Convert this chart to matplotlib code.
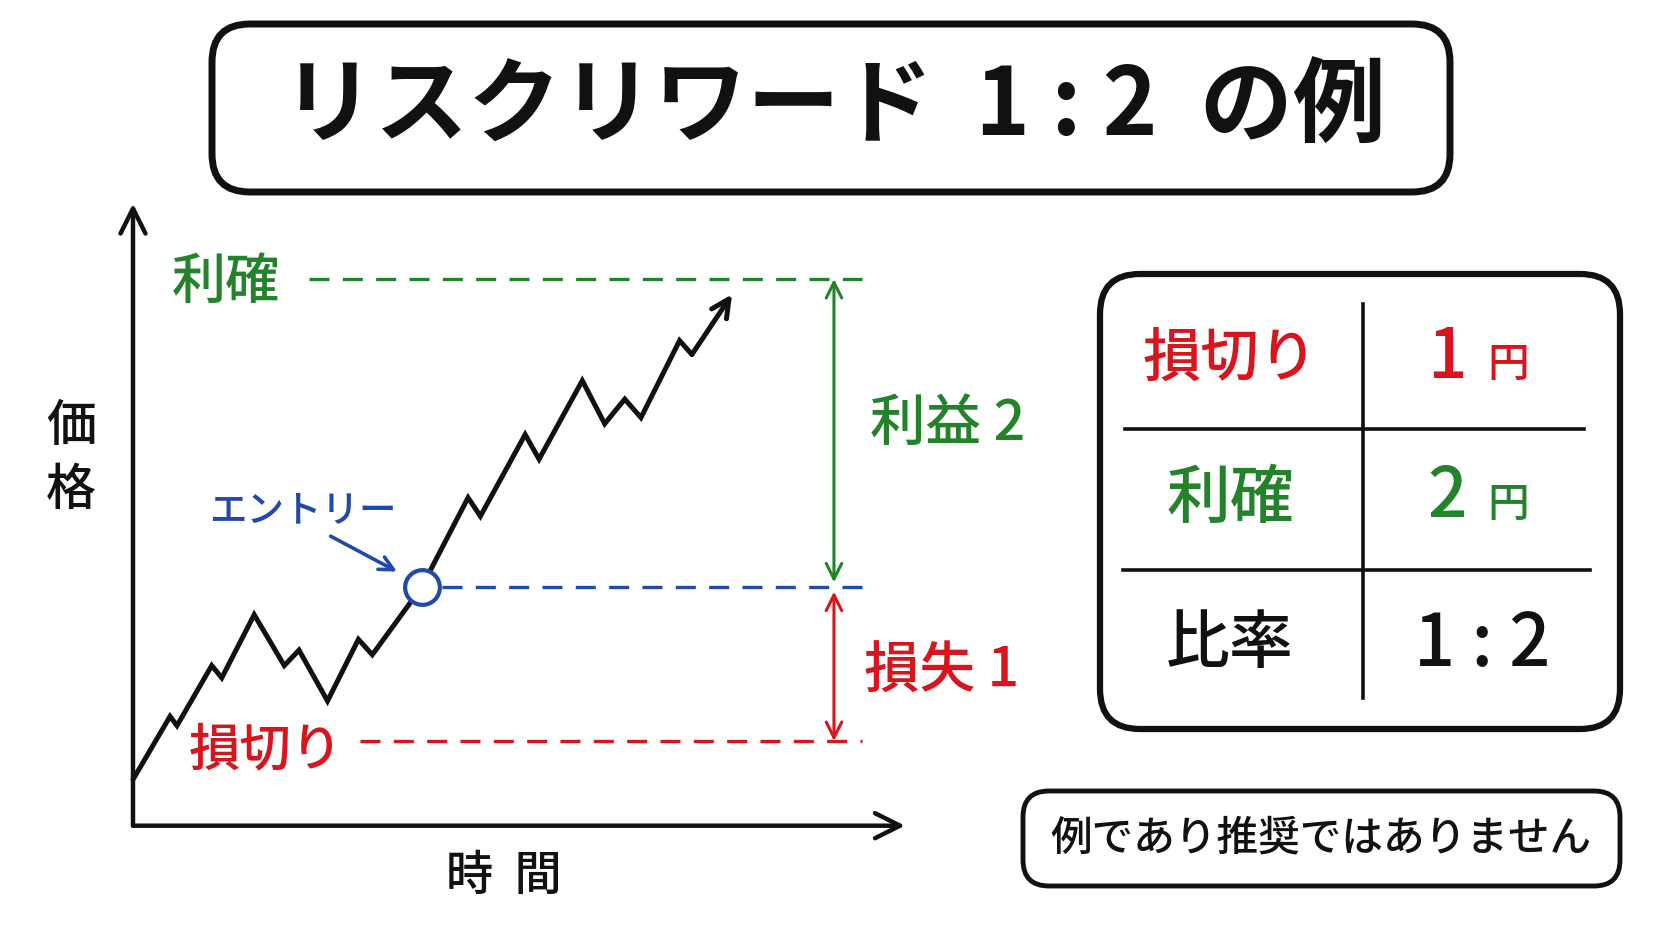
import numpy as np
import matplotlib.pyplot as plt
from matplotlib.patches import FancyBboxPatch

plt.rcParams['font.family'] = ['Noto Sans CJK JP', 'DejaVu Sans']

# データ (時間は 0-100 の任意単位, 価格はエントリーからの円)
time = [0, 4.8, 5.7, 10.2, 11.5, 15.7, 19.6, 21.5, 25.2, 29.2, 31.0, 37.4,
        43.4, 45.0, 50.8, 52.6, 58.2, 61.1, 63.7, 65.8, 70.8, 72.4, 77.6]
price = [-1.25, -0.84, -0.90, -0.51, -0.59, -0.18, -0.51, -0.41, -0.74, -0.34, -0.44, 0.0,
         0.58, 0.46, 0.99, 0.83, 1.34, 1.06, 1.22, 1.10, 1.60, 1.51, 1.90]
entry_t = 37.4
entry = 0.0
stop = -1.0
target = 2.0

row_labels = ['損切り', '利確', '比率']
row_values = ['1', '2', '1 : 2']
row_units = ['円', '円', '']

GREEN = '#23822a'
RED = '#d8141c'
BLUE = '#1f4aa8'
BLACK = '#111111'
row_colors = [RED, GREEN, BLACK]
W = 'medium'

fig = plt.figure(figsize=(16.72, 9.41), dpi=100)
fig.patch.set_facecolor('white')

# レイアウト用 (ピクセル座標)
lay = fig.add_axes([0, 0, 1, 1])
lay.set_xlim(0, 1672)
lay.set_ylim(941, 0)
lay.axis('off')

# チャート用
ax = fig.add_axes([0.03337, 0.04888, 0.53098, 0.76918])
ax.set_xlim(-10, 105)
ax.set_ylim(-2.0, 2.7)
ax.axis('off')

# タイトル枠
lay.add_patch(FancyBboxPatch((212, 24), 1238, 168, boxstyle='round,pad=0,rounding_size=38',
                             fc='white', ec=BLACK, lw=5))
lay.text(834, 108, 'リスクリワード  1 : 2  の例', fontsize=67, ha='center', va='center',
         color=BLACK, fontweight='bold')

# 軸
base = -1.55
ax.annotate('', xy=(0, 2.49), xytext=(0, base),
            arrowprops=dict(arrowstyle='->', lw=3.2, color=BLACK, mutation_scale=45, shrinkA=0, shrinkB=0))
ax.annotate('', xy=(100, base), xytext=(0, base),
            arrowprops=dict(arrowstyle='->', lw=3.2, color=BLACK, mutation_scale=45, shrinkA=0, shrinkB=0))
ax.text(-8, 0.83, '価\n格', fontsize=36, ha='center', va='center', linespacing=1.35,
        color=BLACK, fontweight=W)
ax.text(48, -1.88, '時  間', fontsize=34, ha='center', va='center', color=BLACK, fontweight=W)

# 水平線
ax.plot([22.8, 94.4], [target, target], color=GREEN, lw=2.4, dashes=(6, 4))
ax.plot([40.0, 94.4], [entry, entry], color=BLUE, lw=2.4, dashes=(6, 4))
ax.plot([29.4, 94.4], [stop, stop], color=RED, lw=2.4, dashes=(6, 4))
ax.text(12.0, target - 0.02, '利確', fontsize=39, ha='center', va='center', color=GREEN, fontweight=W)
ax.text(17.2, stop - 0.06, '損切り', fontsize=37, ha='center', va='center', color=RED, fontweight=W)

# 価格の線
ax.plot(time[:-1], price[:-1], color=BLACK, lw=3.6, solid_joinstyle='miter', solid_capstyle='round')
ax.annotate('', xy=(time[-1], price[-1]), xytext=(time[-2], price[-2]),
            arrowprops=dict(arrowstyle='->', lw=3.6, color=BLACK, mutation_scale=32, shrinkA=0, shrinkB=0))

# エントリー
ax.plot([entry_t], [entry], 'o', ms=25, mfc='white', mec=BLUE, mew=3)
ax.text(22.0, 0.5, 'エントリー', fontsize=27, ha='center', va='center', color=BLUE, fontweight=W)
ax.annotate('', xy=(34.2, 0.1), xytext=(25.6, 0.33),
            arrowprops=dict(arrowstyle='->', lw=2.6, color=BLUE, mutation_scale=25, shrinkA=0, shrinkB=0))

# 幅の矢印
ax.annotate('', xy=(90.8, target), xytext=(90.8, entry + 0.03),
            arrowprops=dict(arrowstyle='<->', lw=2.2, color=GREEN, mutation_scale=28, shrinkA=0, shrinkB=0))
ax.annotate('', xy=(90.8, stop), xytext=(90.8, entry - 0.03),
            arrowprops=dict(arrowstyle='<->', lw=2.2, color=RED, mutation_scale=28, shrinkA=0, shrinkB=0))
ax.text(105.5, (target + entry) / 2 + 0.06, '利益 2', fontsize=40, ha='center', va='center',
        color=GREEN, fontweight=W)
ax.text(104.8, (stop + entry) / 2 - 0.05, '損失 1', fontsize=40, ha='center', va='center',
        color=RED, fontweight=W)

# 表
lay.add_patch(FancyBboxPatch((1100, 274), 520, 455, boxstyle='round,pad=0,rounding_size=40',
                             fc='white', ec=BLACK, lw=4.5))
lay.plot([1363, 1363], [304, 698], color=BLACK, lw=2.6)
lay.plot([1125, 1584], [429, 429], color=BLACK, lw=2.6)
lay.plot([1123, 1590], [570, 570], color=BLACK, lw=2.6)
row_y = [360, 499, 645]
label_size = [42, 46, 46]
for i in range(3):
    lay.text(1230, row_y[i], row_labels[i], fontsize=label_size[i], ha='center', va='center',
             color=row_colors[i], fontweight=W)
    if row_units[i]:
        lay.text(1447, row_y[i] - 2, row_values[i], fontsize=50, ha='center', va='center',
                 color=row_colors[i], fontweight=W)
        lay.text(1508, row_y[i] + 5, row_units[i], fontsize=30, ha='center', va='center',
                 color=row_colors[i], fontweight=W)
    else:
        lay.text(1482, row_y[i], row_values[i], fontsize=52, ha='center', va='center',
                 color=row_colors[i], fontweight=W)

# 注記
lay.add_patch(FancyBboxPatch((1023, 791), 597, 95, boxstyle='round,pad=0,rounding_size=26',
                             fc='white', ec=BLACK, lw=3.5))
lay.text(1321, 838, '例であり推奨ではありません', fontsize=30, ha='center', va='center',
         color=BLACK, fontweight=W)

fig.savefig('out.png', dpi=100, facecolor='white')
